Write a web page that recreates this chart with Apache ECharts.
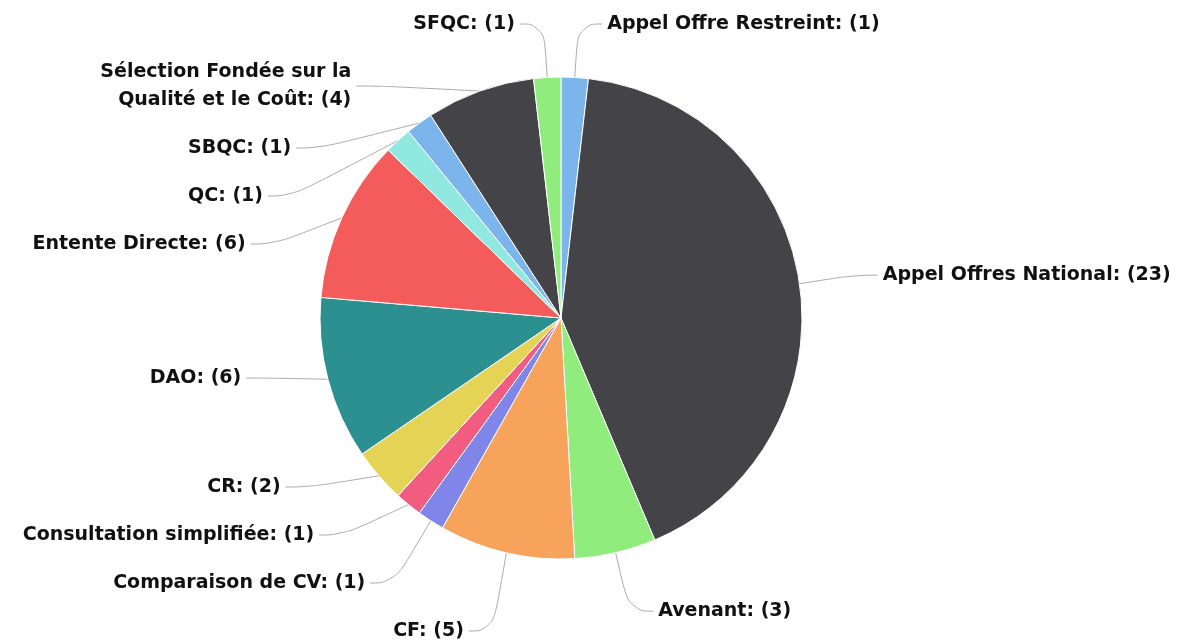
<!DOCTYPE html>
<html>
<head>
<meta charset="utf-8">
<script src="https://cdn.jsdelivr.net/npm/echarts@6/dist/echarts.min.js"></script>
<style>
  html, body { margin: 0; padding: 0; background: #fff; }
  #main { width: 1203px; height: 641px; }
</style>
</head>
<body>
<div id="main"></div>
<script>
const categories = [
  'Appel Offre Restreint', 'Appel Offres National', 'Avenant', 'CF',
  'Comparaison de CV', 'Consultation simplifiée', 'CR', 'DAO',
  'Entente Directe', 'QC', 'SBQC',
  'Sélection Fondée sur la\nQualité et le Coût', 'SFQC'
];
const counts = [1, 23, 3, 5, 1, 1, 2, 6, 6, 1, 1, 4, 1];
const colors = ['#7cb5ec', '#434348', '#90ed7d', '#f7a35c', '#8085e9', '#f15c80',
  '#e4d354', '#2b908f', '#f45b5b', '#91e8e1'];

const chart = echarts.init(document.getElementById('main'));
const option = {
  color: colors,
  animation: false,
  series: [{
    type: 'pie',
    // layout box a bit taller than the canvas so bottom labels can sit near the edge
    left: 0,
    top: -10,
    width: 1203,
    height: 665,
    center: [561, 328],
    radius: 241,
    startAngle: 90,
    clockwise: true,
    itemStyle: { borderColor: '#fff', borderWidth: 1 },
    label: {
      formatter: '{b}: ({c})',
      fontFamily: 'DejaVu Sans',
      fontWeight: 'bold',
      fontSize: 19,
      color: '#111',
      lineHeight: 28,
      padding: [12, 0, 6, 0]
    },
    labelLine: {
      length: 60,
      length2: 24,
      smooth: 0.5,
      lineStyle: { color: '#aaa', width: 1 }
    },
    data: categories.map((c, i) => ({ name: c, value: counts[i] }))
  }]
};
chart.setOption(option);
</script>
</body>
</html>
